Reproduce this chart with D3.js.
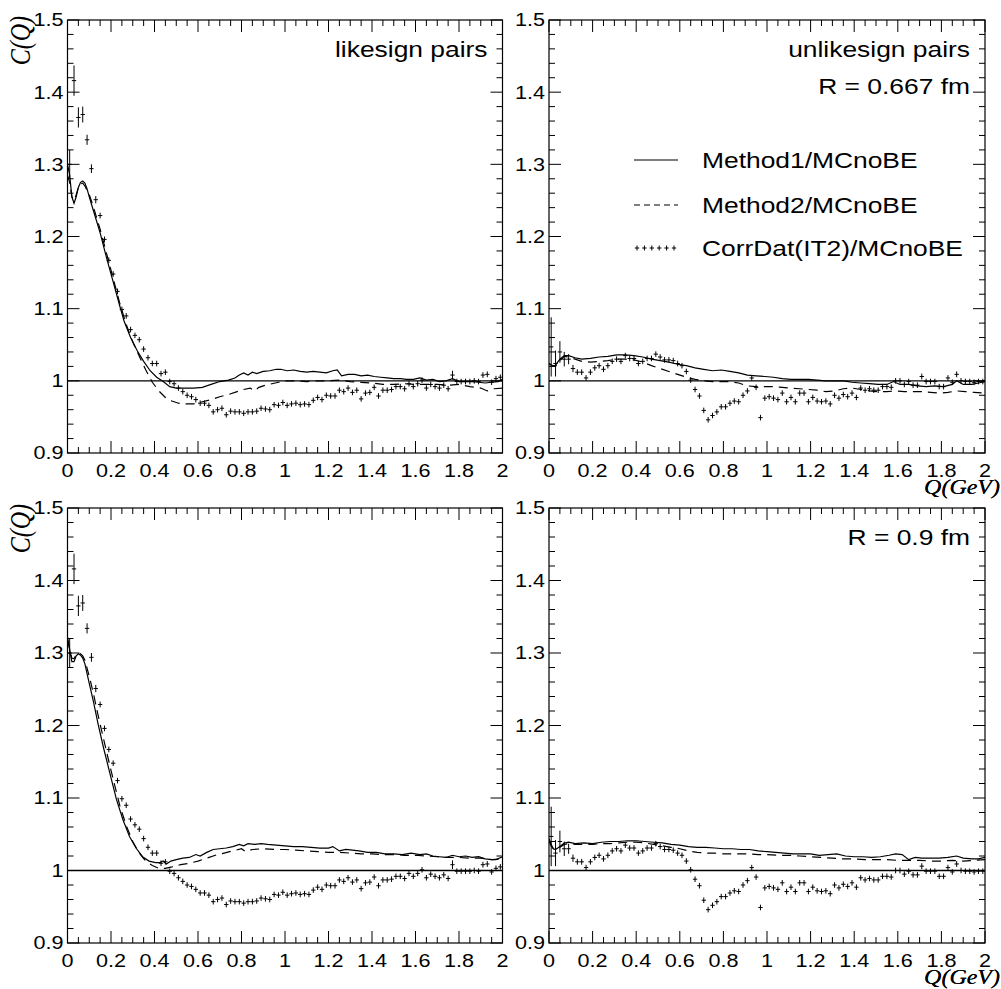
<!DOCTYPE html>
<html>
<head>
<meta charset="utf-8">
<script src="https://cdn.jsdelivr.net/npm/d3@7"></script>
<style>
  html, body { margin: 0; padding: 0; background: #fff; }
  svg { display: block; }
</style>
</head>
<body>
<svg id="chart" width="1001" height="989"></svg>
<script>
// ---- data -------------------------------------------------------------
// Correlation function C(Q) in 100 bins of 0.02 GeV from 0 to 2 GeV.
const binWidth = 0.02;

const likeData = [
  1.300, 1.416, 1.365, 1.369, 1.334, 1.294, 1.251, 1.229, 1.196, 1.167,
  1.148, 1.124, 1.099, 1.090, 1.071, 1.063, 1.057, 1.044, 1.032, 1.024,
  1.024, 1.010, 1.012, 0.999, 0.996, 0.990, 0.985, 0.980, 0.978, 0.974,
  0.969, 0.969, 0.966, 0.957, 0.960, 0.962, 0.953, 0.958, 0.957, 0.957,
  0.955, 0.957, 0.957, 0.958, 0.962, 0.961, 0.960, 0.967, 0.966, 0.970,
  0.966, 0.968, 0.969, 0.967, 0.968, 0.967, 0.973, 0.977, 0.974, 0.980,
  0.979, 0.979, 0.987, 0.985, 0.990, 0.984, 0.987, 0.975, 0.983, 0.984,
  0.991, 0.979, 0.987, 0.987, 0.988, 0.992, 0.992, 0.989, 0.996, 0.992,
  0.996, 1.001, 0.990, 0.995, 0.992, 0.990, 0.994, 0.989, 1.008, 0.999,
  0.999, 0.999, 0.999, 1.000, 0.999, 1.008, 1.009, 0.998, 1.003, 1.005
];
const likeErr = [
  0.020, 0.021, 0.014, 0.011, 0.007, 0.006, 0.005, 0.004, 0.004, 0.003,
  0.003, 0.003, 0.003, 0.003, 0.003, 0.003, 0.003, 0.003, 0.003, 0.003,
  0.003, 0.003, 0.003, 0.003, 0.003, 0.002, 0.002, 0.002, 0.002, 0.002,
  0.002, 0.002, 0.002, 0.002, 0.002, 0.002, 0.002, 0.002, 0.002, 0.002,
  0.002, 0.002, 0.002, 0.002, 0.002, 0.002, 0.002, 0.002, 0.002, 0.002,
  0.002, 0.002, 0.002, 0.002, 0.002, 0.002, 0.002, 0.002, 0.002, 0.002,
  0.002, 0.002, 0.002, 0.002, 0.002, 0.002, 0.002, 0.002, 0.002, 0.002,
  0.002, 0.002, 0.002, 0.002, 0.002, 0.002, 0.002, 0.002, 0.002, 0.002,
  0.002, 0.002, 0.002, 0.002, 0.002, 0.002, 0.002, 0.002, 0.006, 0.002,
  0.002, 0.002, 0.002, 0.002, 0.002, 0.004, 0.004, 0.002, 0.002, 0.002
];

const unlikeData = [
  1.047, 1.024, 1.040, 1.030, 1.030, 1.017, 1.012, 1.012, 1.004, 1.012,
  1.018, 1.021, 1.016, 1.021, 1.027, 1.030, 1.027, 1.035, 1.031, 1.031,
  1.024, 1.027, 1.031, 1.031, 1.037, 1.033, 1.029, 1.029, 1.028, 1.024,
  1.021, 1.013, 1.001, 0.988, 0.979, 0.959, 0.946, 0.952, 0.957, 0.964,
  0.964, 0.969, 0.972, 0.971, 0.980, 0.986, 1.004, 0.991, 0.949, 0.976,
  0.978, 0.976, 0.974, 0.983, 0.971, 0.977, 0.971, 0.983, 0.983, 0.971,
  0.977, 0.972, 0.971, 0.972, 0.968, 0.980, 0.976, 0.981, 0.978, 0.983,
  0.977, 0.990, 0.987, 0.989, 0.987, 0.987, 0.992, 0.992, 0.991, 1.000,
  1.000, 0.995, 0.999, 0.994, 0.994, 1.006, 0.999, 0.999, 0.999, 0.992,
  0.992, 1.004, 0.998, 1.009, 1.000, 0.999, 0.999, 0.998, 0.999, 0.999
];
const unlikeErr = [
  0.041, 0.018, 0.015, 0.010, 0.007, 0.005, 0.004, 0.004, 0.003, 0.003,
  0.003, 0.003, 0.003, 0.003, 0.003, 0.003, 0.003, 0.003, 0.003, 0.003,
  0.003, 0.003, 0.003, 0.003, 0.003, 0.003, 0.003, 0.003, 0.003, 0.003,
  0.003, 0.003, 0.003, 0.003, 0.003, 0.003, 0.003, 0.003, 0.003, 0.003,
  0.003, 0.003, 0.003, 0.003, 0.003, 0.003, 0.003, 0.003, 0.003, 0.003,
  0.002, 0.002, 0.002, 0.002, 0.002, 0.002, 0.002, 0.002, 0.002, 0.002,
  0.002, 0.002, 0.002, 0.002, 0.002, 0.002, 0.002, 0.002, 0.002, 0.002,
  0.002, 0.002, 0.002, 0.002, 0.002, 0.002, 0.002, 0.002, 0.002, 0.002,
  0.002, 0.002, 0.002, 0.002, 0.002, 0.004, 0.002, 0.002, 0.002, 0.002,
  0.002, 0.002, 0.002, 0.004, 0.002, 0.002, 0.002, 0.002, 0.002, 0.002
];

// Method curves, [Q, C] pairs
const likeM1_R0667 = [
  [0,1.300],[0.01,1.285],[0.02,1.255],[0.03,1.246],[0.04,1.255],[0.05,1.268],[0.06,1.275],
  [0.07,1.277],[0.08,1.274],[0.09,1.266],[0.10,1.255],[0.12,1.235],[0.15,1.205],[0.18,1.170],
  [0.21,1.137],[0.24,1.104],[0.26,1.083],[0.29,1.060],[0.32,1.042],[0.35,1.027],[0.38,1.014],
  [0.41,1.005],[0.44,0.999],[0.47,0.992],[0.50,0.990],[0.54,0.990],[0.58,0.990],[0.62,0.991],
  [0.66,0.995],[0.70,0.999],[0.74,1.001],[0.77,1.004],[0.79,1.008],[0.81,1.011],[0.83,1.008],
  [0.85,1.012],[0.87,1.010],[0.90,1.013],[0.93,1.014],[0.96,1.016],[0.98,1.016],[1.01,1.014],
  [1.04,1.015],[1.07,1.013],[1.10,1.012],[1.13,1.013],[1.16,1.012],[1.19,1.011],[1.22,1.014],
  [1.24,1.015],[1.26,1.007],[1.29,1.009],[1.32,1.009],[1.35,1.007],[1.38,1.008],[1.41,1.006],
  [1.44,1.005],[1.47,1.004],[1.50,1.003],[1.53,1.003],[1.56,1.002],[1.59,1.002],[1.62,1.004],
  [1.65,1.001],[1.68,1.002],[1.71,0.999],[1.74,1.000],[1.77,1.003],[1.80,0.999],[1.83,0.999],
  [1.86,0.999],[1.89,0.998],[1.92,0.997],[1.95,0.998],[1.98,0.999],[2.0,1.002]
];
const likeM2_R0667 = [
  [0,1.285],[0.01,1.275],[0.02,1.255],[0.03,1.250],[0.04,1.258],[0.05,1.268],[0.06,1.273],
  [0.07,1.274],[0.08,1.270],[0.10,1.258],[0.12,1.240],[0.15,1.210],[0.18,1.176],[0.21,1.142],
  [0.24,1.108],[0.27,1.078],[0.30,1.054],[0.33,1.034],[0.36,1.015],[0.39,0.998],[0.42,0.986],
  [0.45,0.977],[0.48,0.972],[0.51,0.969],[0.54,0.968],[0.58,0.968],[0.62,0.971],[0.66,0.974],
  [0.70,0.978],[0.74,0.981],[0.78,0.985],[0.81,0.988],[0.84,0.990],[0.86,0.986],[0.88,0.991],
  [0.91,0.994],[0.94,0.996],[0.97,0.998],[1.00,1.000],[1.05,1.000],[1.10,0.999],[1.15,1.000],
  [1.20,1.000],[1.25,1.001],[1.30,0.999],[1.35,0.998],[1.40,0.997],[1.45,0.995],[1.50,0.995],
  [1.55,0.996],[1.60,0.995],[1.65,0.995],[1.70,0.995],[1.75,0.994],[1.80,0.995],[1.85,0.992],
  [1.90,0.990],[1.93,0.986],[1.96,0.989],[2.0,0.990]
];
const unlikeM1_R0667 = [
  [0,1.024],[0.01,1.022],[0.02,1.020],[0.03,1.022],[0.05,1.030],[0.07,1.035],[0.09,1.035],
  [0.12,1.032],[0.15,1.030],[0.19,1.031],[0.23,1.033],[0.27,1.034],[0.31,1.036],[0.35,1.036],
  [0.39,1.035],[0.43,1.033],[0.47,1.030],[0.51,1.028],[0.55,1.026],[0.59,1.023],[0.63,1.021],
  [0.67,1.018],[0.71,1.016],[0.75,1.014],[0.79,1.015],[0.83,1.013],[0.87,1.011],[0.91,1.008],
  [0.95,1.007],[0.99,1.006],[1.03,1.005],[1.07,1.003],[1.11,1.002],[1.15,1.002],[1.19,1.002],
  [1.23,1.001],[1.27,1.000],[1.31,1.000],[1.35,1.000],[1.39,0.998],[1.43,0.997],[1.47,0.996],
  [1.51,0.995],[1.55,0.995],[1.58,0.999],[1.61,0.995],[1.65,0.995],[1.69,0.993],[1.73,0.992],
  [1.77,0.993],[1.81,0.992],[1.85,0.995],[1.87,1.000],[1.90,0.995],[1.94,0.995],[1.97,0.997],
  [2.0,0.999]
];
const unlikeM2_R0667 = [
  [0,1.024],[0.01,1.022],[0.03,1.020],[0.05,1.028],[0.07,1.034],[0.09,1.033],[0.12,1.030],
  [0.15,1.027],[0.19,1.026],[0.23,1.027],[0.27,1.028],[0.31,1.030],[0.35,1.030],[0.39,1.029],
  [0.43,1.026],[0.47,1.021],[0.51,1.017],[0.55,1.013],[0.59,1.009],[0.63,1.005],[0.67,1.002],
  [0.71,1.000],[0.75,0.999],[0.79,0.999],[0.83,0.999],[0.87,0.997],[0.91,0.993],[0.95,0.992],
  [0.99,0.992],[1.03,0.992],[1.07,0.991],[1.11,0.990],[1.15,0.989],[1.19,0.988],[1.23,0.987],
  [1.27,0.985],[1.31,0.986],[1.35,0.989],[1.39,0.990],[1.43,0.988],[1.47,0.986],[1.51,0.985],
  [1.55,0.985],[1.59,0.986],[1.63,0.985],[1.67,0.985],[1.71,0.985],[1.75,0.984],[1.79,0.983],
  [1.83,0.984],[1.87,0.986],[1.91,0.985],[1.95,0.984],[2.0,0.983]
];
const likeM1_R09 = [
  [0,1.322],[0.01,1.305],[0.02,1.288],[0.03,1.288],[0.04,1.296],[0.05,1.299],[0.06,1.297],
  [0.07,1.293],[0.08,1.285],[0.10,1.258],[0.12,1.232],[0.14,1.203],[0.165,1.170],[0.195,1.134],
  [0.225,1.098],[0.255,1.070],[0.285,1.047],[0.315,1.031],[0.345,1.019],[0.375,1.013],
  [0.405,1.011],[0.425,1.011],[0.44,1.013],[0.455,1.009],[0.475,1.013],[0.50,1.015],[0.53,1.017],
  [0.56,1.018],[0.59,1.022],[0.61,1.020],[0.64,1.025],[0.67,1.029],[0.70,1.030],[0.73,1.031],
  [0.76,1.033],[0.79,1.036],[0.81,1.034],[0.83,1.037],[0.86,1.036],[0.89,1.037],[0.92,1.036],
  [0.96,1.035],[1.00,1.034],[1.04,1.033],[1.08,1.033],[1.12,1.032],[1.16,1.031],[1.20,1.031],
  [1.22,1.033],[1.25,1.027],[1.28,1.029],[1.31,1.028],[1.34,1.027],[1.38,1.025],[1.42,1.025],
  [1.46,1.023],[1.50,1.023],[1.54,1.022],[1.58,1.024],[1.62,1.022],[1.65,1.023],[1.68,1.020],
  [1.71,1.019],[1.74,1.018],[1.77,1.021],[1.80,1.019],[1.83,1.020],[1.86,1.018],[1.89,1.019],
  [1.92,1.016],[1.95,1.015],[1.97,1.015],[2.0,1.019]
];
const likeM2_R09 = [
  [0,1.318],[0.01,1.305],[0.02,1.293],[0.03,1.292],[0.04,1.298],[0.05,1.300],[0.06,1.299],
  [0.07,1.296],[0.08,1.290],[0.10,1.268],[0.12,1.243],[0.14,1.215],[0.17,1.176],[0.20,1.138],
  [0.24,1.090],[0.27,1.062],[0.30,1.040],[0.33,1.024],[0.36,1.013],[0.39,1.007],[0.42,1.003],
  [0.45,1.003],[0.48,1.005],[0.52,1.008],[0.56,1.010],[0.60,1.013],[0.64,1.017],[0.68,1.021],
  [0.72,1.024],[0.76,1.027],[0.80,1.030],[0.82,1.026],[0.85,1.029],[0.90,1.030],[0.95,1.029],
  [1.00,1.029],[1.05,1.028],[1.10,1.027],[1.15,1.026],[1.20,1.025],[1.25,1.025],[1.30,1.024],
  [1.35,1.023],[1.40,1.023],[1.45,1.022],[1.50,1.022],[1.55,1.021],[1.60,1.021],[1.65,1.020],
  [1.70,1.019],[1.75,1.018],[1.80,1.018],[1.85,1.017],[1.90,1.017],[1.95,1.015],[2.0,1.016]
];
const unlikeM1_R09 = [
  [0,1.044],[0.01,1.036],[0.02,1.030],[0.03,1.029],[0.05,1.033],[0.07,1.038],[0.09,1.039],
  [0.12,1.037],[0.16,1.038],[0.20,1.037],[0.24,1.039],[0.28,1.040],[0.32,1.040],[0.36,1.041],
  [0.40,1.041],[0.44,1.040],[0.48,1.039],[0.52,1.038],[0.56,1.036],[0.60,1.035],[0.64,1.033],
  [0.68,1.032],[0.72,1.032],[0.76,1.031],[0.80,1.030],[0.84,1.030],[0.88,1.029],[0.92,1.029],
  [0.96,1.027],[1.00,1.026],[1.04,1.025],[1.08,1.024],[1.12,1.023],[1.16,1.023],[1.20,1.023],
  [1.24,1.021],[1.28,1.022],[1.32,1.023],[1.36,1.020],[1.40,1.019],[1.44,1.019],[1.48,1.018],
  [1.52,1.019],[1.56,1.021],[1.59,1.023],[1.62,1.022],[1.65,1.015],[1.68,1.018],[1.71,1.017],
  [1.75,1.017],[1.79,1.017],[1.83,1.018],[1.87,1.020],[1.90,1.017],[1.94,1.016],[1.97,1.016],
  [2.0,1.018]
];
const unlikeM2_R09 = [
  [0,1.040],[0.01,1.034],[0.02,1.030],[0.03,1.029],[0.05,1.032],[0.07,1.036],[0.09,1.037],
  [0.12,1.036],[0.16,1.036],[0.20,1.036],[0.24,1.037],[0.28,1.037],[0.32,1.038],[0.36,1.039],
  [0.40,1.039],[0.44,1.038],[0.48,1.036],[0.52,1.034],[0.56,1.032],[0.60,1.030],[0.64,1.027],
  [0.68,1.025],[0.72,1.024],[0.76,1.024],[0.80,1.023],[0.84,1.023],[0.88,1.023],[0.92,1.023],
  [0.96,1.022],[1.00,1.022],[1.05,1.021],[1.10,1.021],[1.15,1.020],[1.20,1.019],[1.25,1.018],
  [1.30,1.017],[1.35,1.016],[1.40,1.016],[1.45,1.015],[1.50,1.015],[1.55,1.015],[1.60,1.014],
  [1.65,1.014],[1.70,1.014],[1.75,1.013],[1.80,1.013],[1.85,1.014],[1.90,1.013],[1.95,1.014],
  [2.0,1.015]
];

// Axis ticks and labels
const xMajorTicks = [0, 0.2, 0.4, 0.6, 0.8, 1, 1.2, 1.4, 1.6, 1.8, 2];
const xTickLabels = ["0", "0.2", "0.4", "0.6", "0.8", "1", "1.2", "1.4", "1.6", "1.8", "2"];
const yMajorTicks = [0.9, 1.0, 1.1, 1.2, 1.3, 1.4, 1.5];
const yTickLabels = ["0.9", "1", "1.1", "1.2", "1.3", "1.4", "1.5"];
const legendLabels = ["Method1/MCnoBE", "Method2/MCnoBE", "CorrDat(IT2)/MCnoBE"];

// ---- drawing ----------------------------------------------------------
const svg = d3.select("#chart");
svg.append("rect").attr("width", 1001).attr("height", 989).attr("fill", "#fff");

const SX = 1.2;               // horizontal glyph stretch of the canvas
const sansFont = "'Liberation Sans', Arial, Helvetica, sans-serif";
const serifFont = "'Liberation Serif', 'Times New Roman', serif";

function stretchedText(g, x, y, str, opts) {
  const t = g.append("text")
    .attr("transform", `translate(${x},${y}) scale(${SX},1)` + (opts.rotate ? ` rotate(${opts.rotate})` : ""))
    .attr("font-family", opts.family || sansFont)
    .attr("font-size", opts.size)
    .attr("text-anchor", opts.anchor || "start")
    .attr("fill", "#000")
    .text(str);
  if (opts.italic) t.attr("font-style", "italic");
  if (opts.dy) t.attr("dy", opts.dy);
  return t;
}

const panels = [
  { x0: 67.5, x1: 502.5, y0: 20, y1: 453, data: likeData, err: likeErr,
    m1: likeM1_R0667, m2: likeM2_R0667, yTitle: true, labels: ["likesign pairs"] },
  { x0: 549, x1: 985, y0: 20, y1: 453, data: unlikeData, err: unlikeErr,
    m1: unlikeM1_R0667, m2: unlikeM2_R0667, yTitle: false, labels: ["unlikesign pairs", "R = 0.667 fm"], legend: true },
  { x0: 67.5, x1: 502.5, y0: 508, y1: 943, data: likeData, err: likeErr,
    m1: likeM1_R09, m2: likeM2_R09, yTitle: true, labels: [] },
  { x0: 549, x1: 985, y0: 508, y1: 943, data: unlikeData, err: unlikeErr,
    m1: unlikeM1_R09, m2: unlikeM2_R09, yTitle: false, labels: ["R = 0.9 fm"] }
];

panels.forEach(p => {
  const g = svg.append("g");
  const x = d3.scaleLinear().domain([0, 2]).range([p.x0, p.x1]);
  const y = d3.scaleLinear().domain([0.9, 1.5]).range([p.y1, p.y0]);
  const w = p.x1 - p.x0, h = p.y1 - p.y0;

  // clip region for the plotted content
  const clipId = `clip-${p.x0}-${p.y0}`.replace(/\./g, "_");
  svg.append("clipPath").attr("id", clipId)
    .append("rect").attr("x", p.x0).attr("y", p.y0).attr("width", w).attr("height", h);
  const plot = g.append("g").attr("clip-path", `url(#${clipId})`);

  // reference line at C = 1
  plot.append("line")
    .attr("x1", x(0)).attr("x2", x(2)).attr("y1", y(1)).attr("y2", y(1))
    .attr("stroke", "#000").attr("stroke-width", 1.3);

  const line = d3.line().x(d => x(d[0])).y(d => y(d[1]));
  plot.append("path").datum(p.m1).attr("d", line)
    .attr("fill", "none").attr("stroke", "#000").attr("stroke-width", 1.2);
  plot.append("path").datum(p.m2).attr("d", line)
    .attr("fill", "none").attr("stroke", "#000").attr("stroke-width", 1.2)
    .attr("stroke-dasharray", "9,6");

  // data points: "+" markers with error bars
  const halfBinPx = x(binWidth / 2) - x(0);
  const pts = plot.append("g").attr("stroke", "#000").attr("stroke-width", 1);
  p.data.forEach((v, i) => {
    const q = binWidth * (i + 0.5);
    const cx = x(q), cy = y(v);
    const ePx = Math.max(y(v - p.err[i]) - cy, 2.8);
    pts.append("line").attr("x1", cx - halfBinPx).attr("x2", cx + halfBinPx)
      .attr("y1", cy).attr("y2", cy);
    pts.append("line").attr("x1", cx).attr("x2", cx)
      .attr("y1", cy - ePx).attr("y2", cy + ePx);
  });

  // frame
  g.append("rect").attr("x", p.x0).attr("y", p.y0).attr("width", w).attr("height", h)
    .attr("fill", "none").attr("stroke", "#000").attr("stroke-width", 1.2);

  // ticks on all four sides, pointing inwards
  const xMinor = d3.range(0, 2.0001, 0.05);
  const yMinor = d3.range(0.9, 1.5001, 0.02);
  const ticks = g.append("g").attr("stroke", "#000").attr("stroke-width", 1);
  xMinor.forEach(t => {
    const major = xMajorTicks.some(m => Math.abs(m - t) < 1e-6);
    const len = major ? 12 : 6;
    ticks.append("line").attr("x1", x(t)).attr("x2", x(t)).attr("y1", p.y1).attr("y2", p.y1 - len);
    ticks.append("line").attr("x1", x(t)).attr("x2", x(t)).attr("y1", p.y0).attr("y2", p.y0 + len);
  });
  yMinor.forEach(t => {
    const major = yMajorTicks.some(m => Math.abs(m - t) < 1e-6);
    const len = major ? 12 : 6;
    ticks.append("line").attr("x1", p.x0).attr("x2", p.x0 + len).attr("y1", y(t)).attr("y2", y(t));
    ticks.append("line").attr("x1", p.x1).attr("x2", p.x1 - len).attr("y1", y(t)).attr("y2", y(t));
  });

  // tick labels
  xMajorTicks.forEach((t, i) => {
    stretchedText(g, x(t), p.y1 + 24, xTickLabels[i], { size: 18, anchor: "middle" });
  });
  yMajorTicks.forEach((t, i) => {
    stretchedText(g, p.x0 - 4, y(t), yTickLabels[i], { size: 18, anchor: "end", dy: "0.36em" });
  });

  // axis titles
  stretchedText(g, 1000, p.y1 + 41, "Q(GeV)", { size: 20, anchor: "end", italic: true, family: serifFont });
  if (p.yTitle) {
    stretchedText(g, 30, p.y0 - 4, "C(Q)", { size: 24, anchor: "end", italic: true, family: serifFont, rotate: -90 });
  }

  // panel captions
  p.labels.forEach((s, i) => {
    stretchedText(g, p.x1 - 15, p.y0 + 37 + i * 37, s, { size: 22, anchor: "end" });
  });

  // legend
  if (p.legend) {
    const lx0 = 634, lx1 = 678, tx = 702;
    const rows = [160, 205, 248];
    const lg = g.append("g");
    lg.append("line").attr("x1", lx0).attr("x2", lx1).attr("y1", rows[0]).attr("y2", rows[0])
      .attr("stroke", "#000").attr("stroke-width", 1.2);
    lg.append("line").attr("x1", lx0).attr("x2", lx1).attr("y1", rows[1]).attr("y2", rows[1])
      .attr("stroke", "#000").attr("stroke-width", 1.2).attr("stroke-dasharray", "6,4");
    const crossXs = d3.range(6).map(k => lx0 + 3 + k * 7.4);
    crossXs.forEach(cx => {
      lg.append("line").attr("x1", cx - 2.2).attr("x2", cx + 2.2).attr("y1", rows[2]).attr("y2", rows[2])
        .attr("stroke", "#000").attr("stroke-width", 1);
      lg.append("line").attr("x1", cx).attr("x2", cx).attr("y1", rows[2] - 2.5).attr("y2", rows[2] + 2.5)
        .attr("stroke", "#000").attr("stroke-width", 1);
    });
    legendLabels.forEach((s, i) => {
      stretchedText(lg, tx, rows[i], s, { size: 22, anchor: "start", dy: "0.36em" });
    });
  }
});
</script>
</body>
</html>
